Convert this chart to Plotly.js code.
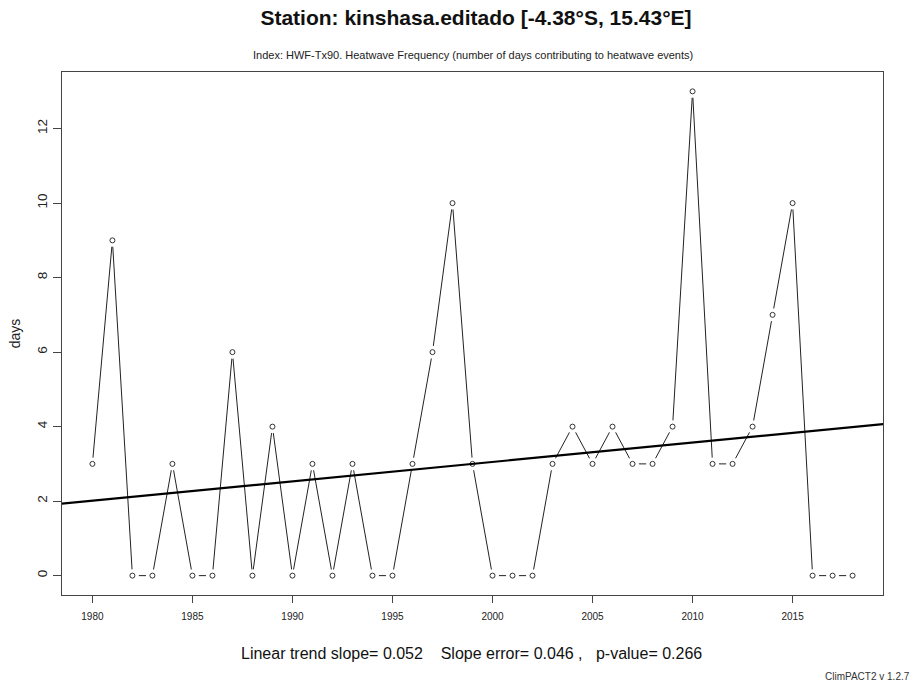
<!DOCTYPE html>
<html>
<head>
<meta charset="utf-8">
<script src="https://cdn.plot.ly/plotly-3.0.1.min.js"></script>
<style>
  html, body { margin: 0; padding: 0; background: #fff; }
  #chart { width: 923px; height: 686px; }
</style>
</head>
<body>
<div id="chart"></div>
<script>
// Annual heatwave frequency (HWF-Tx90), Kinshasa
const years = [1980, 1981, 1982, 1983, 1984, 1985, 1986, 1987, 1988, 1989,
               1990, 1991, 1992, 1993, 1994, 1995, 1996, 1997, 1998, 1999,
               2000, 2001, 2002, 2003, 2004, 2005, 2006, 2007, 2008, 2009,
               2010, 2011, 2012, 2013, 2014, 2015, 2016, 2017, 2018];
const hwfDays = [3, 9, 0, 0, 3, 0, 0, 6, 0, 4,
                 0, 3, 0, 3, 0, 0, 3, 6, 10, 3,
                 0, 0, 0, 3, 4, 3, 4, 3, 3, 4,
                 13, 3, 3, 4, 7, 10, 0, 0, 0];
const trendSlope = 0.052;
const slopeError = 0.046;
const pValue = 0.266;
const xTicks = [1980, 1985, 1990, 1995, 2000, 2005, 2010, 2015];
const yTicks = [0, 2, 4, 6, 8, 10, 12];

// axis ranges padded 4% like base R graphics
const xMin = Math.min(...years), xMax = Math.max(...years);
const yMin = Math.min(...hwfDays), yMax = Math.max(...hwfDays);
const xPad = (xMax - xMin) * 0.04, yPad = (yMax - yMin) * 0.04;
const xRange = [xMin - xPad, xMax + xPad];
const yRange = [yMin - yPad, yMax + yPad];

// trend line passes through the means with the reported slope
const meanX = years.reduce((a, b) => a + b, 0) / years.length;
const meanY = hwfDays.reduce((a, b) => a + b, 0) / hwfDays.length;
const trendX = [xRange[0] - 1, xRange[1] + 1];
const trendY = trendX.map(x => meanY + trendSlope * (x - meanX));

const font = 'Liberation Sans, Arial, sans-serif';

const traces = [
  { // connecting line
    x: years, y: hwfDays, type: 'scatter', mode: 'lines',
    line: { color: '#222', width: 1 }, hoverinfo: 'skip'
  },
  { // white halo so the line stops short of each point
    x: years, y: hwfDays, type: 'scatter', mode: 'markers',
    marker: { symbol: 'circle', size: 13, color: '#fff', line: { width: 0 } },
    hoverinfo: 'skip'
  },
  { // open circle points
    x: years, y: hwfDays, type: 'scatter', mode: 'markers',
    marker: { symbol: 'circle-open', size: 5, color: '#333', line: { width: 1, color: '#333' } }
  },
  { // linear trend
    x: trendX, y: trendY, type: 'scatter', mode: 'lines',
    line: { color: '#000', width: 2.2 }, hoverinfo: 'skip'
  }
];

const layout = {
  width: 923, height: 686,
  margin: { l: 62, r: 40, t: 72, b: 91 },
  paper_bgcolor: '#fff', plot_bgcolor: '#fff',
  showlegend: false,
  font: { family: font, color: '#222' },
  title: {
    text: '<b>Station: kinshasa.editado [-4.38°S, 15.43°E]</b>',
    font: { family: font, size: 21, color: '#111' },
    xref: 'paper', x: (476 - 62) / 821, xanchor: 'center',
    yref: 'container', y: 1 - 18 / 686, yanchor: 'middle'
  },
  xaxis: {
    range: xRange, tickvals: xTicks, ticktext: xTicks.map(String),
    ticks: 'outside', ticklen: 7, tickwidth: 1, tickcolor: '#444',
    tickfont: { family: font, size: 10, color: '#222' },
    ticklabelstandoff: 5,
    showgrid: false, zeroline: false,
    showline: true, mirror: true, linecolor: '#444', linewidth: 1.2
  },
  yaxis: {
    range: yRange, tickvals: yTicks, ticktext: yTicks.map(String),
    tickangle: -90,
    ticks: 'outside', ticklen: 8, tickwidth: 1, tickcolor: '#444',
    tickfont: { family: font, size: 13.5, color: '#222' },
    ticklabelstandoff: 0,
    showgrid: false, zeroline: false,
    showline: true, mirror: true, linecolor: '#444', linewidth: 1.2,
    title: { text: 'days', font: { family: font, size: 14, color: '#222' }, standoff: 11 }
  },
  annotations: [
    {
      text: 'Index: HWF-Tx90. Heatwave Frequency (number of days contributing to heatwave events)',
      xref: 'paper', yref: 'paper', x: 0.5, y: (595 - 55) / 523,
      xanchor: 'center', yanchor: 'middle', showarrow: false,
      font: { family: font, size: 11, color: '#222' }
    },
    {
      text: 'Linear trend slope= ' + trendSlope.toFixed(3) +
            '    Slope error= ' + slopeError.toFixed(3) +
            ' ,   p-value= ' + pValue.toFixed(3),
      xref: 'paper', yref: 'paper', x: (471 - 62) / 821, y: (595 - 654) / 523,
      xanchor: 'center', yanchor: 'middle', showarrow: false,
      font: { family: font, size: 16, color: '#111' }
    },
    {
      text: 'ClimPACT2 v 1.2.7',
      xref: 'paper', yref: 'paper', x: (912 - 62) / 821, y: (595 - 676) / 523,
      xanchor: 'right', yanchor: 'middle', showarrow: false,
      font: { family: font, size: 10, color: '#333' }
    }
  ]
};

Plotly.newPlot('chart', traces, layout, { staticPlot: true, displayModeBar: false });
</script>
</body>
</html>
